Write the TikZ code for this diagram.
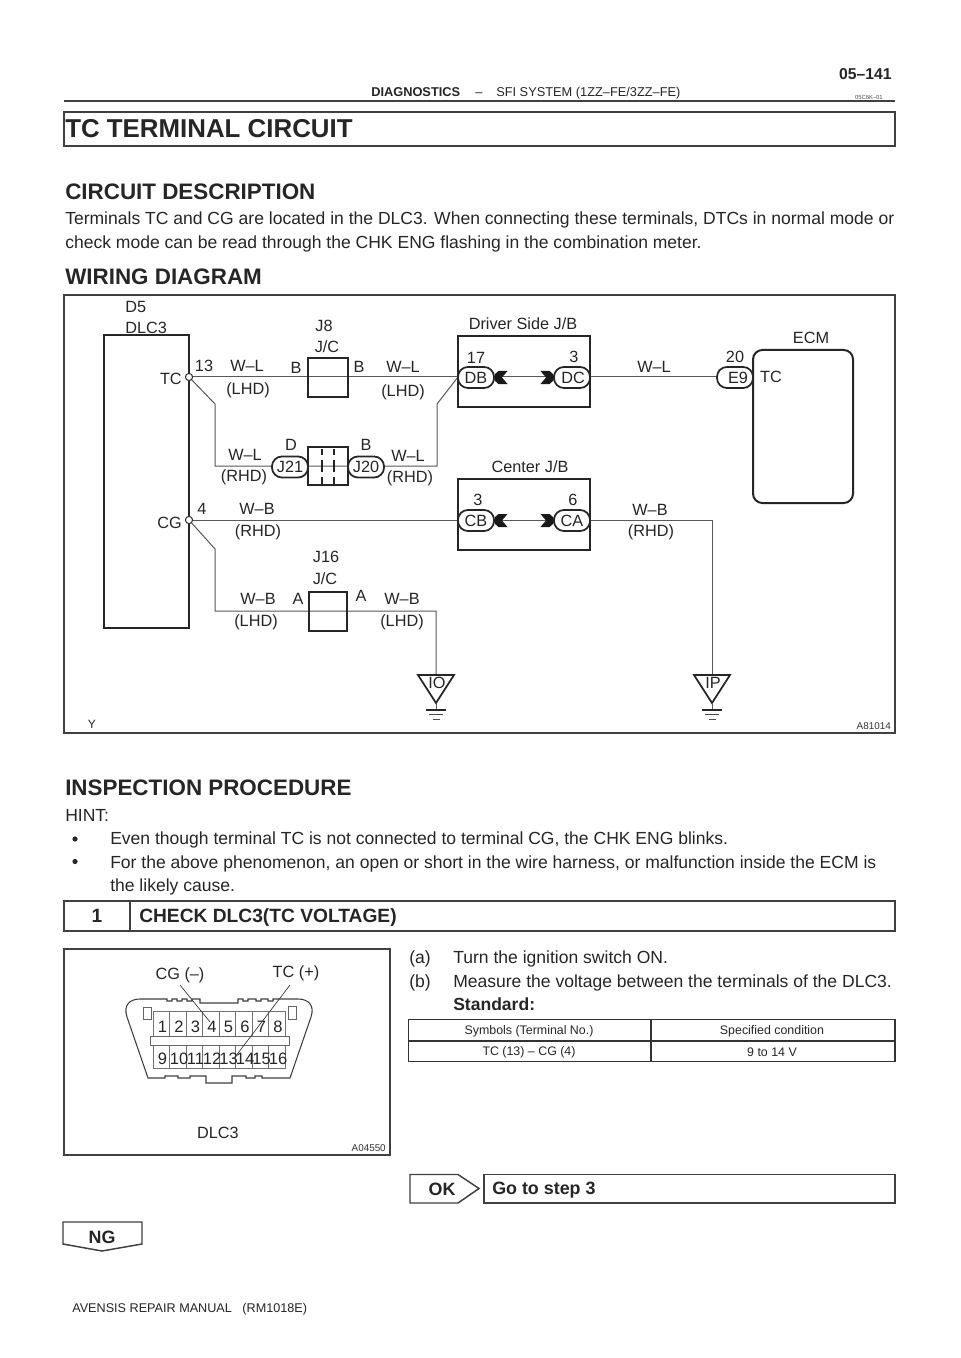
\documentclass[tikz,border=0pt]{standalone}
\usepackage{fontspec}
\setmainfont{Liberation Sans}
\tikzset{
 x=0.75pt,y=-0.75pt,
 wire/.style={line width=0.75pt,draw=black!65},
 thick box/.style={line width=1.5pt,draw=black!85},
 frame/.style={line width=1.1pt,draw=black!75},
 pill/.style={line width=1.3pt,draw=black!85,fill=white,rounded corners=7.4pt},
 lab/.style={inner sep=0,font=\fontsize{12.2}{12.2}\selectfont,text=black!85},
 para/.style={inner sep=0,anchor=base west,font=\fontsize{13.15}{13.15}\selectfont,text=black!85},
 head/.style={inner sep=0,anchor=base west,font=\fontsize{16.8}{16.8}\selectfont\bfseries,text=black!85},
 tiny lab/.style={inner sep=0,font=\fontsize{7.4}{7.4}\selectfont,text=black!80},
 cell/.style={inner sep=0,font=\fontsize{9.3}{9.3}\selectfont,text=black!85},
 pin/.style={inner sep=0,font=\fontsize{12.4}{12.4}\selectfont,text=black!85},
 boldlab/.style={inner sep=0,font=\fontsize{13.4}{13.4}\selectfont\bfseries,text=black!85},
}
\newcommand{\pillbox}[5]{\draw[pill] (#2,#3-10.5) rectangle (#2+36,#3+10.5);
 \node[lab] (#1) at (#2+18+#5,#3) {#4};}
\newcommand{\chevL}[2]{\fill[black!90] (#1,#2-3) -- (#1+4,#2-6.5) -- (#1+13,#2-6.5) -- (#1+7.5,#2) -- (#1+13,#2+6.5) -- (#1+4,#2+6.5) -- (#1,#2+3) -- cycle;}
\newcommand{\chevR}[2]{\fill[black!90] (#1,#2-3) -- (#1-4,#2-6.5) -- (#1-13,#2-6.5) -- (#1-7.5,#2) -- (#1-13,#2+6.5) -- (#1-4,#2+6.5) -- (#1,#2+3) -- cycle;}
\newcommand{\gnd}[3]{\draw[line width=1.3pt,draw=black!85,fill=white] (#1-18,#2) -- (#1+18,#2) -- (#1,#2+28) -- cycle;
 \draw[wire] (#1,#2+28) -- (#1,#2+35);
 \draw[line width=1.3pt,draw=black!85] (#1-10,#2+35) -- (#1+10,#2+35);
 \draw[line width=.5pt,draw=black!70] (#1-7,#2+39) -- (#1+7,#2+39) (#1-3.5,#2+44) -- (#1+3.5,#2+44);
 \node[lab] at (#1+1,#2+8) {#3};}
\begin{document}
\begin{tikzpicture}
\useasboundingbox[fill=white] (0,0) rectangle (960,1358);
% header
\node[inner sep=0,anchor=base east,font=\fontsize{11.8}{11.8}\selectfont\bfseries,text=black!85] (pg) at (892,80) {05–141};
\node[inner sep=0,anchor=base west,font=\fontsize{9.6}{9.6}\selectfont\bfseries,text=black!85] (dg) at (371,97) {DIAGNOSTICS};
\node[inner sep=0,anchor=base west,font=\fontsize{9.6}{9.6}\selectfont,text=black!85] (dsh) at (475,97) {–};
\node[inner sep=0,anchor=base west,font=\fontsize{9.6}{9.6}\selectfont,text=black!85] (sf) at (496,97) {SFI SYSTEM (1ZZ–FE/3ZZ–FE)};
\node[inner sep=0,anchor=base east,font=\fontsize{4.4}{4.4}\selectfont,text=black!70] (cd) at (883,100) {05C6K–01};
\draw[frame] (64,101) -- (895,101);
% title
\draw[frame] (64,112) rectangle (895,146);
\node[head,font=\fontsize{19.4}{19.4}\selectfont\bfseries] (ttl) at (65,138) {TC TERMINAL CIRCUIT};
\node[head] (cdh) at (65,200) {CIRCUIT DESCRIPTION};
\node[para] (p1) at (65,225) {Terminals TC and CG are located in the DLC3. When connecting these terminals, DTCs in normal mode or};
\node[para] (p2) at (65,249) {check mode can be read through the CHK ENG flashing in the combination meter.};
\node[head] (wd) at (65,285) {WIRING DIAGRAM};
% wiring frame
\draw[frame] (64,295) rectangle (895,733);
\node[tiny lab,anchor=base east] (a81) at (891,729) {A81014};
\node[lab,font=\fontsize{9}{9}\selectfont] (yy) at (92,724) {Y};
% wires
\draw[wire] (189,377) -- (458,377);
\draw[wire] (189,377) -- (215,404) -- (215,466) -- (437,466) -- (437,404) -- (458,377);
\draw[wire] (189,520) -- (458,520);
\draw[wire] (189,520) -- (215,549) -- (215,611) -- (436,611) -- (436,676);
\draw[wire] (590,520) -- (712,520) -- (712,676);
\draw[wire] (590,377) -- (717,377);
% DLC3
\draw[thick box] (103.5,335.5) rectangle (189,628);
\draw[line width=.8pt,draw=black!80,fill=white] (189,377) circle (3.6);
\draw[line width=.8pt,draw=black!80,fill=white] (189,520) circle (3.6);
\node[lab,anchor=base west] (d5) at (125,313) {D5};
\node[lab,anchor=base west] (dlc) at (125,334) {DLC3};
\node[lab,anchor=base east] (tc) at (182,384) {TC};
\node[lab,anchor=base east] (cg) at (182,528) {CG};
\node[lab] (n13) at (204,366) {13};
\node[lab] (n4) at (202,509) {4};
% J8
\draw[thick box] (308,358) rectangle (347.5,397);
\node[lab] (j8) at (324,326) {J8};
\node[lab] (jc) at (327,347) {J/C};
\node[lab] (jb1) at (296,368) {B};
\node[lab] (jb2) at (359,367) {B};
\node[lab] (wl1) at (247,366) {W–L};
\node[lab] (lh1) at (248,390) {(LHD)};
\node[lab] (wl2) at (403,367) {W–L};
\node[lab] (lh2) at (403,392) {(LHD)};
% J20/21
\draw[thick box] (308,447) rectangle (347.5,485);
\foreach \xx in {322,334}{
 \draw[line width=1pt,draw=black!85] (\xx,449) -- (\xx,455) (\xx,460) -- (\xx,472) (\xx,477) -- (\xx,485);}
\pillbox{j21}{272}{467}{J21}{0}
\pillbox{j20}{348}{467}{J20}{0}
\node[lab] (dd) at (291,445) {D};
\node[lab] (bb) at (366,445) {B};
\node[lab] (wl3) at (245,455) {W–L};
\node[lab] (rh3) at (244,477) {(RHD)};
\node[lab] (wl4) at (408,456) {W–L};
\node[lab] (rh4) at (410,478) {(RHD)};
% CG labels
\node[lab] (wb1) at (257,509) {W–B};
\node[lab] (rh5) at (258,532) {(RHD)};
% J16
\draw[thick box] (309,591.5) rectangle (347,630.5);
\node[lab] (j16) at (326,557) {J16};
\node[lab] (jc2) at (325,579) {J/C};
\node[lab] (a1) at (298,599) {A};
\node[lab] (a2) at (361,596) {A};
\node[lab] (wb2) at (258,599) {W–B};
\node[lab] (lh3) at (256,622) {(LHD)};
\node[lab] (wb3) at (402,599) {W–B};
\node[lab] (lh4) at (402,622) {(LHD)};
% Driver side J/B
\draw[thick box] (458,336) rectangle (590,407);
\draw[wire] (494,377) -- (554,377);
\pillbox{db}{458}{377.5}{DB}{0}
\pillbox{dc}{554}{377.5}{DC}{1}
\chevL{494.5}{377.5}
\chevR{553.5}{377.5}
\node[lab] (ds) at (523,324) {Driver Side J/B};
\node[lab] (n17) at (476,358) {17};
\node[lab] (n3) at (574,357) {3};
% Center J/B
\draw[thick box] (458,479) rectangle (590,550);
\draw[wire] (494,520) -- (554,520);
\pillbox{cb}{458}{520.5}{CB}{0}
\pillbox{ca}{554}{520.5}{CA}{0}
\chevL{494.5}{520.5}
\chevR{553.5}{520.5}
\node[lab] (cj) at (530,467) {Center J/B};
\node[lab] (n3b) at (478,500) {3};
\node[lab] (n6) at (573,500) {6};
\node[lab] (wl5) at (654,367) {W–L};
\node[lab] (wb4) at (650,510) {W–B};
\node[lab] (rh6) at (651,532) {(RHD)};
% ECM
\pillbox{e9}{717}{377.5}{E9}{3}
\draw[thick box,rounded corners=7pt,fill=white] (753,350) rectangle (853,503);
\node[lab] (ecm) at (811,338) {ECM};
\node[lab] (n20) at (735,357) {20};
\node[lab] (tc2) at (771,377) {TC};
% grounds
\gnd{436}{675}{IO}
\gnd{712}{675}{IP}
% inspection
\node[head] (ip) at (65,795) {INSPECTION PROCEDURE};
\node[para] (h) at (65,821) {HINT:};
\fill[black!85] (75,839) circle (2.6);
\node[para] (b1) at (110,844) {Even though terminal TC is not connected to terminal CG, the CHK ENG blinks.};
\fill[black!85] (75,861.5) circle (2.6);
\node[para] (b2) at (110,868) {For the above phenomenon, an open or short in the wire harness, or malfunction inside the ECM is};
\node[para] (b3) at (110,891) {the likely cause.};
% step 1
\draw[frame] (64,901) rectangle (895,931);
\draw[frame] (130,901) -- (130,931);
\node[boldlab,font=\fontsize{14.4}{14.4}\selectfont\bfseries] (s1) at (97,916) {1};
\node[boldlab,anchor=base west,font=\fontsize{14.4}{14.4}\selectfont\bfseries] (s1t) at (139,922) {CHECK DLC3(TC VOLTAGE)};
% connector frame
\draw[frame] (64,949) rectangle (390,1155);
\node[tiny lab,anchor=base east] (a04) at (386,1151) {A04550};
\node[lab] (cgm) at (180,975) {CG (–)};
\node[lab] (tcp) at (296,973) {TC (+)};
\node[lab] (dlc2) at (218,1133) {DLC3};
\draw[line width=.8pt,draw=black!75]
 (148,1078) -- (127,1017) .. controls (123,1005) and (130,999) .. (140,999)
 -- (167,999) -- (167,1001) -- (172,1001) -- (172,999) -- (177,999) -- (177,1001) -- (182,1001) -- (182,999) -- (187,999) -- (187,1001) -- (192,1001) -- (192,999) -- (200,999) -- (200,1003) -- (238,1003) -- (238,999)
 -- (243,999) -- (243,1001) -- (248,1001) -- (248,999) -- (256,999) -- (256,1001) -- (261,1001) -- (261,999) -- (268,999) -- (268,1001) -- (273,1001) -- (273,999)
 -- (298,999) .. controls (308,999) and (315,1005) .. (311,1017) -- (290,1078)
 -- (262,1078) -- (262,1076) -- (255,1076) -- (255,1078) -- (246,1078) -- (246,1076) -- (232,1076) -- (232,1083) -- (206,1083) -- (206,1076) -- (190,1076) -- (190,1078) -- (178,1078) -- (178,1076) -- (165,1076) -- (165,1078) -- cycle;
\draw[line width=.5pt,draw=black!55] (153,1011) rectangle (285,1068);
\foreach \i in {1,...,7}{\draw[line width=.5pt,draw=black!55] (153+16.5*\i,1011) -- (153+16.5*\i,1068);}
\draw[line width=.5pt,draw=black!60,fill=white] (150,1036) rectangle (289,1045);
\draw[line width=.5pt,draw=black!60] (143,1007) rectangle (151,1019) (288,1006) rectangle (296,1019);
\foreach \i in {1,...,8}{\node[pin] (pa\i) at (146+16.5*\i,1027) {\i};}
\foreach \i [evaluate=\i as \k using {int(\i+8)}] in {1,...,8}{\node[pin] (pb\i) at (146+16.5*\i,1059) {\k};}
\draw[line width=.5pt,draw=black!80] (180,985) -- (210,1022);
\draw[line width=.5pt,draw=black!80] (290,985) -- (235,1057);
% text right
\node[para] (ta) at (409,963) {(a)};
\node[para] (tat) at (453,963) {Turn the ignition switch ON.};
\node[para] (tb) at (409,987) {(b)};
\node[para] (tbt) at (453,987) {Measure the voltage between the terminals of the DLC3.};
\node[para,font=\fontsize{13.15}{13.15}\selectfont\bfseries] (st) at (453,1010) {Standard:};
% table
\draw[line width=1.2pt,draw=black!80] (408.5,1019.5) rectangle (895,1061.5);
\draw[line width=1.2pt,draw=black!80] (408.5,1041) -- (895,1041);
\draw[line width=.9pt,draw=black!80] (651,1019.5) -- (651,1061.5);
\node[cell] (c1) at (529,1031) {Symbols (Terminal No.)};
\node[cell] (c2) at (772,1031) {Specified condition};
\node[cell] (c3) at (529,1052) {TC (13) – CG (4)};
\node[cell] (c4) at (772,1052) {9 to 14 V};
% OK
\draw[frame] (410,1174.5) -- (458,1174.5) -- (479,1188.5) -- (458,1203) -- (410,1203) -- cycle;
\node[boldlab] (ok) at (442,1189) {OK};
\draw[frame] (484,1174.5) rectangle (895,1203);
\node[boldlab,anchor=base west] (go) at (492,1194) {Go to step 3};
% NG
\draw[frame] (63,1222) -- (142,1222) -- (142,1244) -- (102,1251) -- (63,1244) -- cycle;
\node[boldlab] (ng) at (102,1237) {NG};
\node[inner sep=0,anchor=base west,font=\fontsize{9.48}{9.48}\selectfont,text=black!85] (ft) at (72,1312) {AVENSIS REPAIR MANUAL\ \ \ (RM1018E)};
\end{tikzpicture}
\end{document}
